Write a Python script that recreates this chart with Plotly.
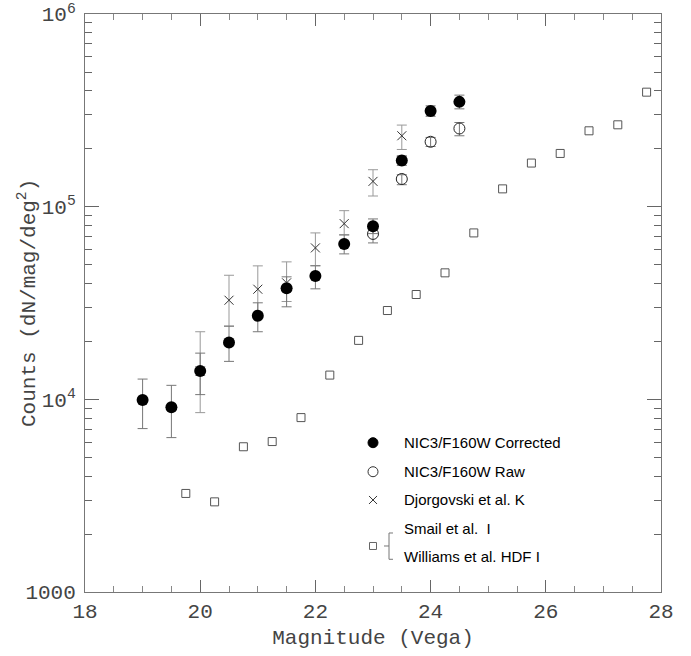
import plotly.graph_objects as go

# NIC3/F160W corrected counts
mag_cor = [19.0, 19.5, 20.0, 20.5, 21.0, 21.5, 22.0, 22.5, 23.0, 23.5, 24.0, 24.5]
cnt_cor = [9920, 9090, 14020, 19740, 27150, 37730, 43640, 64080, 79080, 173700, 313300, 349900]
cor_hi = [12740, 11820, 17370, 23980, 31700, 43230, 49290, 71370, 86360, 183800, 333700, 379200]
cor_lo = [7050, 6330, 10580, 15740, 22430, 30220, 37460, 56870, 72460, 163700, 294400, 321900]

# NIC3/F160W raw counts
mag_raw = [23.0, 23.5, 24.0, 24.5]
cnt_raw = [72200, 139200, 217200, 254500]
raw_hi = [79750, 146500, 228700, 273400]
raw_lo = [64850, 130000, 205300, 233300]

# Djorgovski et al. K
mag_djo = [20.0, 20.5, 21.0, 21.5, 22.0, 22.5, 23.0, 23.5]
cnt_djo = [14020, 32690, 37280, 40240, 61090, 81640, 135260, 233300]
djo_hi = [22430, 44060, 49290, 51700, 73070, 95340, 155500, 265100]
djo_lo = [8530, 23980, 28240, 32190, 49470, 71370, 113600, 198100]

# Smail et al. I / Williams et al. HDF I
mag_sq = [19.75, 20.25, 20.75, 21.25, 21.75, 22.25, 22.75, 23.25, 23.75, 24.25,
          24.75, 25.25, 25.75, 26.25, 26.75, 27.25, 27.75]
cnt_sq = [3247, 2937, 5674, 6037, 8039, 13360, 20230, 28900, 35000, 45350,
          73070, 123700, 168400, 188900, 247600, 266000, 392900]

x_ticks = [18, 20, 22, 24, 26, 28]
y_ticks = [1000, 1e4, 1e5, 1e6]
y_ticktext = ["1000", "10<sup>4</sup>", "10<sup>5</sup>", "10<sup>6</sup>"]
y_minor = [m * 10 ** e for e in (3, 4, 5) for m in range(2, 10)]

legend_labels = ["NIC3/F160W Corrected", "NIC3/F160W Raw", "Djorgovski et al. K",
                 "Smail et al.\u00a0\u00a0I", "Williams et al. HDF I"]

def up(v, h):
    return [a - b for a, b in zip(h, v)]

def dn(v, l):
    return [b - a for a, b in zip(l, v)]

fig = go.Figure()

fig.add_trace(go.Scatter(
    x=mag_sq, y=cnt_sq, mode="markers",
    marker=dict(symbol="square-open", size=8, color="#555", line=dict(width=1, color="#555")),
    showlegend=False))

fig.add_trace(go.Scatter(
    x=mag_djo, y=cnt_djo, mode="markers",
    marker=dict(symbol="x-thin-open", size=9, color="#333", line=dict(width=1, color="#333")),
    error_y=dict(type="data", symmetric=False, array=up(cnt_djo, djo_hi),
                 arrayminus=dn(cnt_djo, djo_lo), color="#999", thickness=1, width=5),
    showlegend=False))

fig.add_trace(go.Scatter(
    x=mag_raw, y=cnt_raw, mode="markers",
    marker=dict(symbol="circle-open", size=11, color="#222", line=dict(width=1, color="#222")),
    error_y=dict(type="data", symmetric=False, array=up(cnt_raw, raw_hi),
                 arrayminus=dn(cnt_raw, raw_lo), color="#777", thickness=1, width=5),
    showlegend=False))

fig.add_trace(go.Scatter(
    x=mag_cor, y=cnt_cor, mode="markers",
    marker=dict(symbol="circle", size=12, color="black"),
    error_y=dict(type="data", symmetric=False, array=up(cnt_cor, cor_hi),
                 arrayminus=dn(cnt_cor, cor_lo), color="#777", thickness=1, width=5),
    showlegend=False))

# legend keys on an overlay axis
lx = 0.5
ly = [0.2583, 0.2081, 0.1592, 0.0796]
key_symbols = ["circle", "circle-open", "x-thin-open", "square-open"]
key_sizes = [10, 10, 8, 7]
key_colors = ["black", "#333", "#333", "#666"]
for yy, s, sz, c in zip(ly, key_symbols, key_sizes, key_colors):
    fig.add_trace(go.Scatter(
        x=[lx], y=[yy], xaxis="x2", yaxis="y2", mode="markers",
        marker=dict(symbol=s, size=sz, color=c, line=dict(width=1, color=c)),
        showlegend=False, hoverinfo="skip"))

text_y = [0.2583, 0.2081, 0.1592, 0.1102, 0.0611]
for t, yy in zip(legend_labels, text_y):
    fig.add_annotation(x=0.5498, y=yy, xref="paper", yref="paper", text=t,
                       showarrow=False, xanchor="left", yanchor="middle",
                       font=dict(family="Liberation Sans, Arial", size=15, color="black"))

# bracket
bc = "#777"
fig.add_shape(type="line", xref="paper", yref="paper", x0=0.5278, x1=0.5278, y0=0.0566, y1=0.1021,
              line=dict(color=bc, width=1))
fig.add_shape(type="line", xref="paper", yref="paper", x0=0.5278, x1=0.5347, y0=0.1021, y1=0.1021,
              line=dict(color=bc, width=1))
fig.add_shape(type="line", xref="paper", yref="paper", x0=0.5278, x1=0.5347, y0=0.0566, y1=0.0566,
              line=dict(color=bc, width=1))
fig.add_shape(type="line", xref="paper", yref="paper", x0=0.5191, x1=0.5278, y0=0.0796, y1=0.0796,
              line=dict(color=bc, width=1))

tick_font = dict(family="Liberation Mono, monospace", size=21, color="#444")

# y-axis title
fig.add_annotation(x=-0.1007, y=0.5, xref="paper", yref="paper",
                   text="Counts (dN/mag/deg<sup>2</sup>)", textangle=-90,
                   showarrow=False, xanchor="center", yanchor="middle", font=tick_font)

fig.update_layout(
    width=691, height=656,
    margin=dict(l=85, r=30, t=14, b=64),
    paper_bgcolor="white", plot_bgcolor="white",
    showlegend=False,
    xaxis=dict(range=[18, 28], tickvals=x_ticks, ticks="inside", ticklen=12, tickwidth=1,
               tickcolor="#666", showline=True, linecolor="#777", linewidth=1,
               mirror="allticks", showgrid=False, zeroline=False, tickfont=tick_font,
               automargin=False,
               minor=dict(ticks="inside", ticklen=6, dtick=0.5, tickcolor="#888", showgrid=False),
               title=dict(text="Magnitude (Vega)", font=tick_font, standoff=6)),
    yaxis=dict(type="log", range=[3, 6], tickvals=y_ticks, ticktext=y_ticktext,
               ticks="inside", ticklen=14, tickwidth=1, tickcolor="#666",
               showline=True, linecolor="#777", linewidth=1, mirror="allticks",
               showgrid=False, zeroline=False, tickfont=tick_font, automargin=False,
               ticklabelstandoff=4,
               minor=dict(ticks="inside", ticklen=7, tickvals=y_minor, tickcolor="#666", showgrid=False)),
    xaxis2=dict(overlaying="x", range=[0, 1], visible=False, anchor="y2"),
    yaxis2=dict(overlaying="y", range=[0, 1], visible=False, anchor="x2"),
)

fig.write_html("out.html", config={"displayModeBar": False},
               post_script="document.body.style.margin='0';document.body.style.overflow='hidden';")
